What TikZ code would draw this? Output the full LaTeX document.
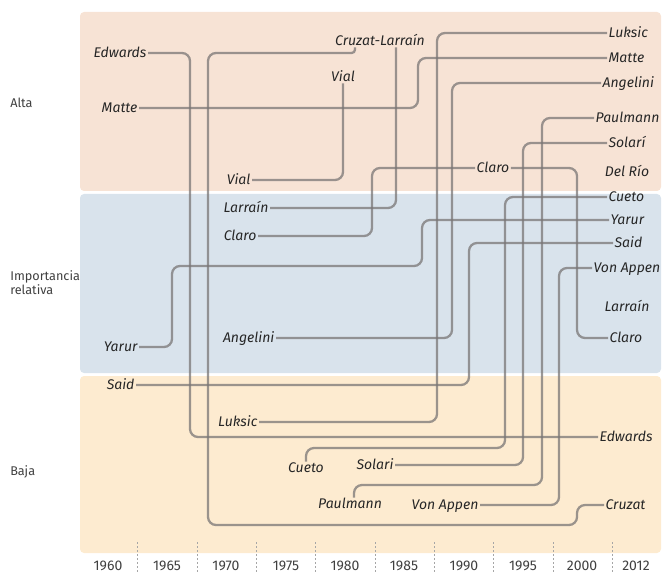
\documentclass[tikz,border=0pt]{standalone}
\usepackage{fontspec}
\setmainfont{Fira Sans}
\usetikzlibrary{calc}
\definecolor{alta}{HTML}{F7E3D5}
\definecolor{media}{HTML}{D9E3EC}
\definecolor{baja}{HTML}{FDEBD0}
\definecolor{linea}{HTML}{7A7676}
\definecolor{texto}{HTML}{262626}
\definecolor{eje}{HTML}{404040}
\begin{document}
\begin{tikzpicture}[x=0.75pt,y=-0.75pt,
  conn/.style={draw=linea, line width=1.7pt, rounded corners=6pt, draw opacity=0.75},
  lab/.style={font=\fontsize{10.5}{12}\selectfont\itshape, text=texto, inner sep=1pt, text height=7.3pt, text depth=0pt},
  side/.style={font=\fontsize{9.5}{10.5}\selectfont, text=eje, anchor=west, inner sep=0pt, align=left},
  year/.style={font=\fontsize{10.5}{12}\selectfont, text=eje},
  band/.style={rounded corners=3pt},
  sep/.style={draw=gray!70, line width=0.4pt, dash pattern=on 1.5pt off 1.5pt}]
\useasboundingbox (0,0) rectangle (663,573);
% bands
\fill[alta, band] (80,12) rectangle (661,191);
\fill[media, band] (80,194) rectangle (661,373);
\fill[baja, band] (80,376) rectangle (661,553);
% axis
\foreach \x in {137,197,256,315,375,434,493,553,612} \draw[sep] (\x,542) -- (\x,573);
\foreach \x/\t in {108/1960,167/1965,226/1970,286/1975,345/1980,404/1985,464/1990,523/1995,582/2000,636/2012}
  \node[year] at (\x,566) {\t};
% side labels
\node[side] (alta) at (10,103) {Alta};
\node[side] (imp) at (10,283) {Importancia\\relativa};
\node[side] (baja) at (10,472) {Baja};
% left / middle labels
\node[lab, anchor=east] (edL) at (148,53) {Edwards};
\node[lab, anchor=east] (matL) at (139,108) {Matte};
\node[lab, anchor=east] (vialB) at (252,180) {Vial};
\node[lab, anchor=east] (larL) at (270,208) {Larraín};
\node[lab, anchor=east] (claL) at (258,236) {Claro};
\node[lab, anchor=east] (angL) at (276,338) {Angelini};
\node[lab, anchor=east] (yarL) at (139,347) {Yarur};
\node[lab, anchor=east] (saidL) at (136,385) {Said};
\node[lab, anchor=east] (lukL) at (259,422) {Luksic};
\node[lab, anchor=east] (solB) at (395,465) {Solari};
\node[lab, anchor=east] (vonB) at (480,505) {Von Appen};
\node[lab] (cueB) at (306,468) {Cueto};
\node[lab] (paulB) at (350,504) {Paulmann};
\node[lab] (cruzL) at (380,41) {Cruzat-Larraín};
\node[lab] (vialT) at (343,77) {Vial};
\node[lab] (claM) at (493,168) {Claro};
% right labels
\node[lab, anchor=west] (lukR) at (607,33) {Luksic};
\node[lab, anchor=west] (matR) at (607,58) {Matte};
\node[lab, anchor=west] (angR) at (601,83) {Angelini};
\node[lab, anchor=west] (paulR) at (594,118) {Paulmann};
\node[lab, anchor=west] (solR) at (607,143) {Solarí};
\node[lab] (delR) at (627,172) {Del Río};
\node[lab, anchor=west] (cueR) at (607,197) {Cueto};
\node[lab, anchor=west] (yarR) at (609,220) {Yarur};
\node[lab, anchor=west] (saidR) at (613,243) {Said};
\node[lab, anchor=west] (vonR) at (592,268) {Von Appen};
\node[lab] (larR) at (627,307) {Larraín};
\node[lab, anchor=west] (claR) at (608,338) {Claro};
\node[lab, anchor=west] (edR) at (598,437) {Edwards};
\node[lab, anchor=west] (cruzR) at (604,505) {Cruzat};
% connectors
\draw[conn] (edL.east) -- (190,53) -- (190,437) -- (edR.west);
\draw[conn] ($(cruzL.south)+(-25,0)$) [rounded corners=2.5pt] -- (355,53) [rounded corners=6pt] -- (208,53) -- (208,525) -- (577,525) -- (577,505) -- (cruzR.west);
\draw[conn] ($(cruzL.south)+(16,0)$) |- (larL.east);
\draw[conn] (matL.east) -- (418,108) -- (418,58) -- (matR.west);
\draw[conn] (lukR.west) -- (437,33) -- (437,422) -- (lukL.east);
\draw[conn] (angR.west) -- (452,83) -- (452,338) -- (angL.east);
\draw[conn] (vialT.south) |- (vialB.east);
\draw[conn] (claM.west) -- (372,168) -- (372,236) -- (claL.east);
\draw[conn] (claM.east) -- (577,168) -- (577,338) -- (claR.west);
\draw[conn] (paulR.west) -- (542,118) -- (542,485) -- (354,485) [rounded corners=4pt] -- ($(paulB.north)+(4,0)$);
\draw[conn] (solR.west) -- (523,143) -- (523,465) -- (solB.east);
\draw[conn] (cueR.west) -- (505,197) -- (505,448) -- (306,448) [rounded corners=4pt] -- (cueB.north);
\draw[conn] (yarR.west) -- (422,220) -- (422,266) -- (172,266) -- (172,347) -- (yarL.east);
\draw[conn] (saidR.west) -- (469,243) -- (469,385) -- (saidL.east);
\draw[conn] (vonR.west) -- (559,268) -- (559,505) -- (vonB.east);
\end{tikzpicture}
\end{document}
